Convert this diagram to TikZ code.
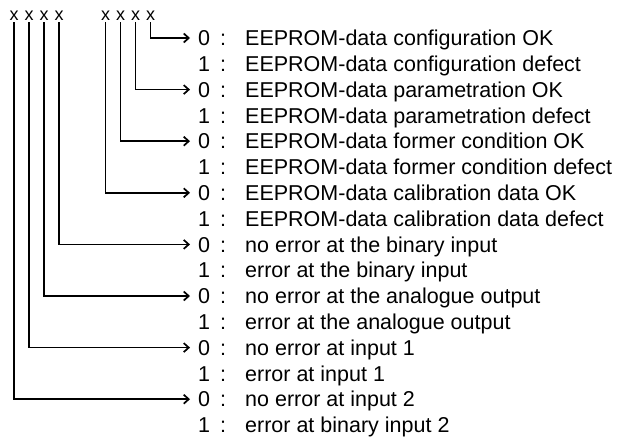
\documentclass[tikz,border=0pt]{standalone}
\usepackage{fontspec}
\setmainfont{Liberation Sans}
\usetikzlibrary{arrows.meta}
\newcommand{\bitrow}[2]{\makebox[22pt][l]{#1}\makebox[25pt][l]{:}#2}
\tikzset{
  bit/.style={font=\fontsize{18}{21}\selectfont, inner xsep=0pt, inner ysep=1.2pt, text height=9.3pt, text depth=0pt},
  row/.style={anchor=west, font=\fontsize{21.5}{25}\selectfont, inner xsep=8pt, inner ysep=0pt, text height=15.4pt, text depth=0pt},
  flag/.style={line width=1.7pt, -{Straight Barb[length=5pt,width=9pt]}}
}
\begin{document}
\begin{tikzpicture}[x=1pt,y=-1pt]
\useasboundingbox (0,0) rectangle (619,439);
% bits
\node[bit] (b1) at (14,16) {x};
\node[bit] (b2) at (29,16) {x};
\node[bit] (b3) at (44,16) {x};
\node[bit] (b4) at (59,16) {x};
\node[bit] (b5) at (105.5,16) {x};
\node[bit] (b6) at (120.5,16) {x};
\node[bit] (b7) at (135.5,16) {x};
\node[bit] (b8) at (150.5,16) {x};
% meanings
\node[row] (r1) at (190,38) {\bitrow{0}{EEPROM-data configuration OK}};
\node[row] (r2) at (190,63.8) {\bitrow{1}{EEPROM-data configuration defect}};
\node[row] (r3) at (190,89.6) {\bitrow{0}{EEPROM-data parametration OK}};
\node[row] (r4) at (190,115.4) {\bitrow{1}{EEPROM-data parametration defect}};
\node[row] (r5) at (190,141.2) {\bitrow{0}{EEPROM-data former condition OK}};
\node[row] (r6) at (190,167) {\bitrow{1}{EEPROM-data former condition defect}};
\node[row] (r7) at (190,192.8) {\bitrow{0}{EEPROM-data calibration data OK}};
\node[row] (r8) at (190,218.6) {\bitrow{1}{EEPROM-data calibration data defect}};
\node[row] (r9) at (190,244.4) {\bitrow{0}{no error at the binary input}};
\node[row] (r10) at (190,270.2) {\bitrow{1}{error at the binary input}};
\node[row] (r11) at (190,296) {\bitrow{0}{no error at the analogue output}};
\node[row] (r12) at (190,321.8) {\bitrow{1}{error at the analogue output}};
\node[row] (r13) at (190,347.6) {\bitrow{0}{no error at input 1}};
\node[row] (r14) at (190,373.4) {\bitrow{1}{error at input 1}};
\node[row] (r15) at (190,399.2) {\bitrow{0}{no error at input 2}};
\node[row] (r16) at (190,425) {\bitrow{1}{error at binary input 2}};
% connectors
\draw[flag] (b8.south) |- (r1.west);
\draw[flag] (b7.south) |- (r3.west);
\draw[flag] (b6.south) |- (r5.west);
\draw[flag] (b5.south) |- (r7.west);
\draw[flag] (b4.south) |- (r9.west);
\draw[flag] (b3.south) |- (r11.west);
\draw[flag] (b2.south) |- (r13.west);
\draw[flag] (b1.south) |- (r15.west);
\end{tikzpicture}
\end{document}
